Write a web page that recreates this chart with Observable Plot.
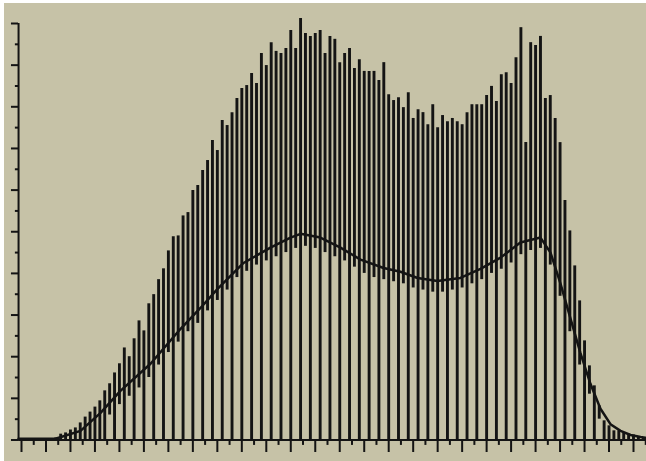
<!DOCTYPE html>
<html>
<head>
<meta charset="utf-8">
<script src="https://cdn.jsdelivr.net/npm/d3@7"></script>
<script src="https://cdn.jsdelivr.net/npm/@observablehq/plot@0.6"></script>
<style>
  html, body { margin: 0; padding: 0; background: #ffffff; }
  #chart { position: absolute; left: 4px; top: 3px; width: 642px; height: 458px; background: #c6c2a7; }
  #chart svg { display: block; background: #c6c2a7; }
</style>
</head>
<body>
<div id="chart"></div>
<script>
// Sample positions (x units: one major x tick = 1)
const spikeX = [1.4,1.6,1.8,2.0,2.2,2.4,2.6,2.8,3.0,3.2,3.4,3.6,3.8,4.0,4.2,4.4,4.6,4.8,5.0,5.2,
  5.4,5.6,5.8,6.0,6.2,6.4,6.6,6.8,7.0,7.2,7.4,7.6,7.8,8.0,8.2,8.4,8.6,8.8,9.0,9.2,
  9.4,9.6,9.8,10.0,10.2,10.4,10.6,10.8,11.0,11.2,11.4,11.6,11.8,12.0,12.2,12.4,12.6,12.8,13.0,13.2,
  13.4,13.6,13.8,14.0,14.2,14.4,14.6,14.8,15.0,15.2,15.4,15.6,15.8,16.0,16.2,16.4,16.6,16.8,17.0,17.2,
  17.4,17.6,17.8,18.0,18.2,18.4,18.6,18.8,19.0,19.2,19.4,19.6,19.8,20.0,20.2,20.4,20.6,20.8,21.0,21.2,
  21.4,21.6,21.8,22.0,22.2,22.4,22.6,22.8,23.0,23.2,23.4,23.6,23.8,24.0,24.2,24.4,24.6,24.8,25.0,25.2,25.4];

// Peak value of each oscillation
const spikeHigh = [0.05,0.14,0.17,0.24,0.29,0.41,0.55,0.67,0.79,0.94,
  1.18,1.35,1.61,1.83,2.21,2.00,2.43,2.86,2.62,3.27,
  3.49,3.85,4.11,4.54,4.88,4.90,5.38,5.46,5.99,6.11,
  6.47,6.71,7.19,6.95,7.67,7.55,7.86,8.20,8.44,8.51,
  8.80,8.56,9.28,8.99,9.54,9.33,9.28,9.40,9.83,9.40,
  10.12,9.76,9.69,9.76,9.83,9.28,9.69,9.62,9.06,9.28,
  9.40,8.92,9.13,8.85,8.85,8.85,8.63,9.06,8.29,8.15,
  8.22,7.98,8.34,7.72,7.93,7.86,7.57,8.05,7.50,7.79,
  7.64,7.72,7.64,7.57,7.86,8.05,8.05,8.05,8.27,8.49,
  8.13,8.77,8.82,8.56,9.18,9.90,7.14,9.54,9.47,9.69,
  8.20,8.27,7.72,7.14,5.75,5.02,4.18,3.34,2.38,1.78,
  1.30,0.82,0.46,0.34,0.22,0.22,0.17,0.14,0.12,0.07,0.05];

// Trough value of each oscillation
const spikeLow = [0,0,0,0,0,0,0,0,0,0,
  0,0.6,0,0.85,0,1.05,0,1.25,0,1.5,
  0,1.8,0,2.1,0,2.35,0,2.6,0,2.8,
  0,3.1,0,3.35,0,3.6,0,3.9,0,4.05,
  0,4.2,0,4.3,0,4.4,0,4.5,0,4.6,
  0,4.65,0,4.6,0,4.5,0,4.4,0,4.3,
  0,4.15,0,4.0,0,3.9,0,3.85,0,3.8,
  0,3.75,0,3.65,0,3.6,0,3.55,0,3.55,
  0,3.6,0,3.65,0,3.75,0,3.85,0,4.0,
  0,4.1,0,4.25,0,4.45,0,4.55,0,4.6,
  0,4.2,0,3.45,0,2.6,0,1.8,0,1.1,
  0,0.5,0,0,0,0,0,0,0,0,0];

// Mean curve
const meanX = [-0.12,1.39,2.41,3.23,4.04,5.27,6.50,7.31,8.01,9.07,10.17,10.99,11.40,12.21,13.03,13.85,14.79,15.48,16.18,16.99,
  17.93,18.75,19.57,20.38,21.20,21.61,22.02,22.43,22.83,23.24,23.65,24.06,24.47,24.88,25.29,25.6];
const meanY = [0.03,0.03,0.22,0.65,1.18,1.83,2.67,3.17,3.63,4.25,4.62,4.86,4.95,4.86,4.62,4.33,4.13,4.04,3.89,3.82,
  3.89,4.11,4.38,4.74,4.86,4.50,3.75,2.91,2.09,1.35,0.75,0.38,0.22,0.12,0.07,0.04];

// Axis ticks
const yMajor = [0,1,2,3,4,5,6,7,8,9,10];
const yMinor = [0.5,1.5,2.5,3.5,4.5,5.5,6.5,7.5,8.5,9.5];
const xMajor = [0,1,2,3,4,5,6,7,8,9,10,11,12,13,14,15,16,17,18,19,20,21,22,23,24,25];
const xMinor = [0.5,1.5,2.5,3.5,4.5,5.5,6.5,7.5,8.5,9.5,10.5,11.5,12.5,13.5,14.5,15.5,16.5,17.5,18.5,19.5,20.5,21.5,22.5,23.5,24.5,25.5];

const spikes = spikeX.map((x, i) => ({x, lo: spikeLow[i], hi: spikeHigh[i]}));
const mean = meanX.map((x, i) => ({x, y: meanY[i]}));
const ink = "#141414";
const axisX0 = -0.12;

const chart = Plot.plot({
  width: 642,
  height: 458,
  margin: 0,
  style: {background: "#c6c2a7", overflow: "visible"},
  x: {domain: [0, 25], range: [17, 629], axis: null},
  y: {domain: [0, 10], range: [436.5, 20], axis: null},
  marks: [
    // spikes
    Plot.ruleX(spikes, {x: "x", y1: "lo", y2: "hi", stroke: ink, strokeWidth: 2.9}),
    // mean curve
    Plot.line(mean, {x: "x", y: "y", stroke: ink, strokeWidth: 2.5}),
    // y axis
    Plot.ruleX([axisX0], {y1: 0, y2: 10, stroke: ink, strokeWidth: 2}),
    Plot.ruleY(yMajor, {x1: -0.41, x2: axisX0, stroke: ink, strokeWidth: 2}),
    Plot.ruleY(yMinor, {x1: -0.25, x2: axisX0, stroke: ink, strokeWidth: 2}),
    // x axis
    Plot.ruleY([0], {x1: axisX0, x2: 25.7, stroke: ink, strokeWidth: 2.2}),
    Plot.ruleX(xMajor, {y1: 0, y2: -0.3, stroke: ink, strokeWidth: 2}),
    Plot.ruleX(xMinor, {y1: 0, y2: -0.13, stroke: ink, strokeWidth: 2})
  ]
});
document.getElementById("chart").appendChild(chart);
</script>
</body>
</html>
